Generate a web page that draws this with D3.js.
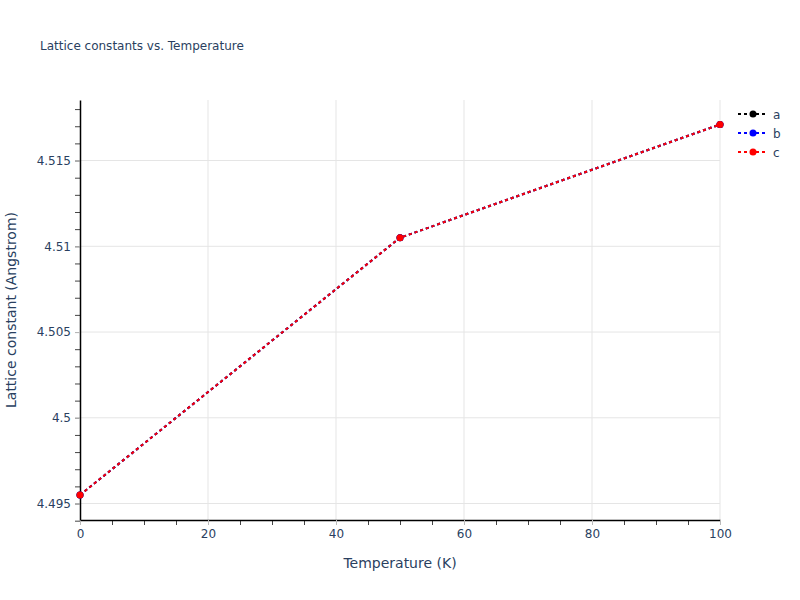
<!doctype html>
<html>
  <head>
    <meta charset="utf-8">
    <script src="https://cdn.jsdelivr.net/npm/d3@7"></script>
    <style>
      body { margin: 0; background: #fff; }
      text { font-family: "DejaVu Sans", Verdana, sans-serif; fill: #2a3f5f; }
    </style>
  </head>
  <body>
    <div id="chart"></div>
  </body>
  <script>
    // data
    var temperatures = [0, 50, 100];
    var seriesNames = ["a", "b", "c"];
    var seriesColours = ["#000000", "#0000ff", "#ff0000"];
    var aValues = [4.4955, 4.5105, 4.5171];
    var bValues = [4.4955, 4.5105, 4.5171];
    var cValues = [4.4955, 4.5105, 4.5171];
    var xTicks = [0, 20, 40, 60, 80, 100];
    var yTicks = [4.495, 4.5, 4.505, 4.51, 4.515];
    var yTickLabels = ["4.495", "4.5", "4.505", "4.51", "4.515"];

    var width = 800,
      height = 600,
      margin = { top: 100, right: 80, bottom: 80, left: 80 };

    var series = [aValues, bValues, cValues].map(function(vals, i) {
      return {
        name: seriesNames[i],
        colour: seriesColours[i],
        points: vals.map(function(v, j) { return { x: temperatures[j], y: v }; })
      };
    });

    var svg = d3.select("#chart")
                .append("svg")
                .attr("width", width)
                .attr("height", height);

    var x = d3.scaleLinear()
              .domain([0, 100])
              .range([margin.left, width - margin.right]);

    var y = d3.scaleLinear()
              .domain([4.49404, 4.51853])
              .range([height - margin.bottom, margin.top]);

    // grid
    svg.append("g")
       .selectAll("line")
       .data(xTicks.filter(function(d) { return d > 0; }))
       .enter()
       .append("line")
       .attr("x1", function(d) { return x(d); })
       .attr("x2", function(d) { return x(d); })
       .attr("y1", margin.top)
       .attr("y2", height - margin.bottom)
       .attr("stroke", "#e5e5e5")
       .attr("stroke-width", 1);

    svg.append("g")
       .selectAll("line")
       .data(yTicks)
       .enter()
       .append("line")
       .attr("x1", margin.left)
       .attr("x2", width - margin.right)
       .attr("y1", function(d) { return y(d); })
       .attr("y2", function(d) { return y(d); })
       .attr("stroke", "#e5e5e5")
       .attr("stroke-width", 1);

    // minor ticks
    var xMinor = d3.range(0, 101, 5);
    var yMinor = d3.range(4.495, 4.5185, 0.001).concat([4.494]);

    svg.append("g")
       .attr("transform", "translate(0," + (height - margin.bottom) + ")")
       .call(d3.axisBottom(x).tickValues(xMinor).tickSize(5).tickFormat(""))
       .call(function(g) {
         g.select(".domain").remove();
         g.selectAll("line").attr("stroke", "#444");
       });

    svg.append("g")
       .attr("transform", "translate(" + margin.left + ",0)")
       .call(d3.axisLeft(y).tickValues(yMinor).tickSize(5).tickFormat(""))
       .call(function(g) {
         g.select(".domain").remove();
         g.selectAll("line").attr("stroke", "#444");
       });

    // major ticks and labels
    var xAxis = svg.append("g")
       .attr("transform", "translate(0," + (height - margin.bottom) + ")")
       .call(d3.axisBottom(x).tickValues(xTicks).tickSize(5).tickPadding(4).tickSizeOuter(0));
    xAxis.select(".domain").attr("stroke", "#000").attr("stroke-width", 1.5);
    xAxis.selectAll("line").attr("stroke", "#bbb");
    xAxis.selectAll("text").attr("font-size", 12).attr("font-family", null).style("fill", "#2a3f5f");

    var yAxis = svg.append("g")
       .attr("transform", "translate(" + margin.left + ",0)")
       .call(d3.axisLeft(y).tickValues(yTicks).tickSize(5).tickPadding(4).tickSizeOuter(0)
               .tickFormat(function(d, i) { return yTickLabels[i]; }));
    yAxis.select(".domain").attr("stroke", "#000").attr("stroke-width", 1.5);
    yAxis.selectAll("line").attr("stroke", "#bbb");
    yAxis.selectAll("text").attr("font-size", 12).attr("font-family", null).style("fill", "#2a3f5f");
    xAxis.attr("font-family", null);
    yAxis.attr("font-family", null);

    // lines
    var line = d3.line()
                 .x(function(d) { return x(d.x); })
                 .y(function(d) { return y(d.y); });

    var traces = svg.append("g")
       .selectAll("g")
       .data(series)
       .enter()
       .append("g");

    traces.append("path")
          .attr("d", function(d) { return line(d.points); })
          .attr("fill", "none")
          .attr("stroke", function(d) { return d.colour; })
          .attr("stroke-width", 2)
          .attr("stroke-dasharray", "3,3");

    traces.selectAll("circle")
          .data(function(d) { return d.points.map(function(p) { return { x: p.x, y: p.y, colour: d.colour }; }); })
          .enter()
          .append("circle")
          .attr("cx", function(d) { return x(d.x); })
          .attr("cy", function(d) { return y(d.y); })
          .attr("r", 3.5)
          .attr("fill", function(d) { return d.colour; });

    // titles
    svg.append("text")
       .attr("x", 40)
       .attr("y", 50)
       .attr("font-size", 12)
       .text("Lattice constants vs. Temperature");

    svg.append("text")
       .attr("x", (margin.left + width - margin.right) / 2)
       .attr("y", 568)
       .attr("text-anchor", "middle")
       .attr("font-size", 14)
       .text("Temperature (K)");

    svg.append("text")
       .attr("transform", "translate(16," + ((margin.top + height - margin.bottom) / 2) + ") rotate(-90)")
       .attr("text-anchor", "middle")
       .attr("font-size", 14)
       .text("Lattice constant (Angstrom)");

    // legend
    var legend = svg.append("g")
       .selectAll("g")
       .data(series)
       .enter()
       .append("g")
       .attr("transform", function(d, i) { return "translate(738," + (114 + i * 19) + ")"; });

    legend.append("line")
          .attr("x1", 0)
          .attr("x2", 28)
          .attr("stroke", function(d) { return d.colour; })
          .attr("stroke-width", 2)
          .attr("stroke-dasharray", "3,3");

    legend.append("circle")
          .attr("cx", 15)
          .attr("r", 3.5)
          .attr("fill", function(d) { return d.colour; });

    legend.append("text")
          .attr("x", 35)
          .attr("y", 4.5)
          .attr("font-size", 12)
          .text(function(d) { return d.name; });
  </script>
</html>
